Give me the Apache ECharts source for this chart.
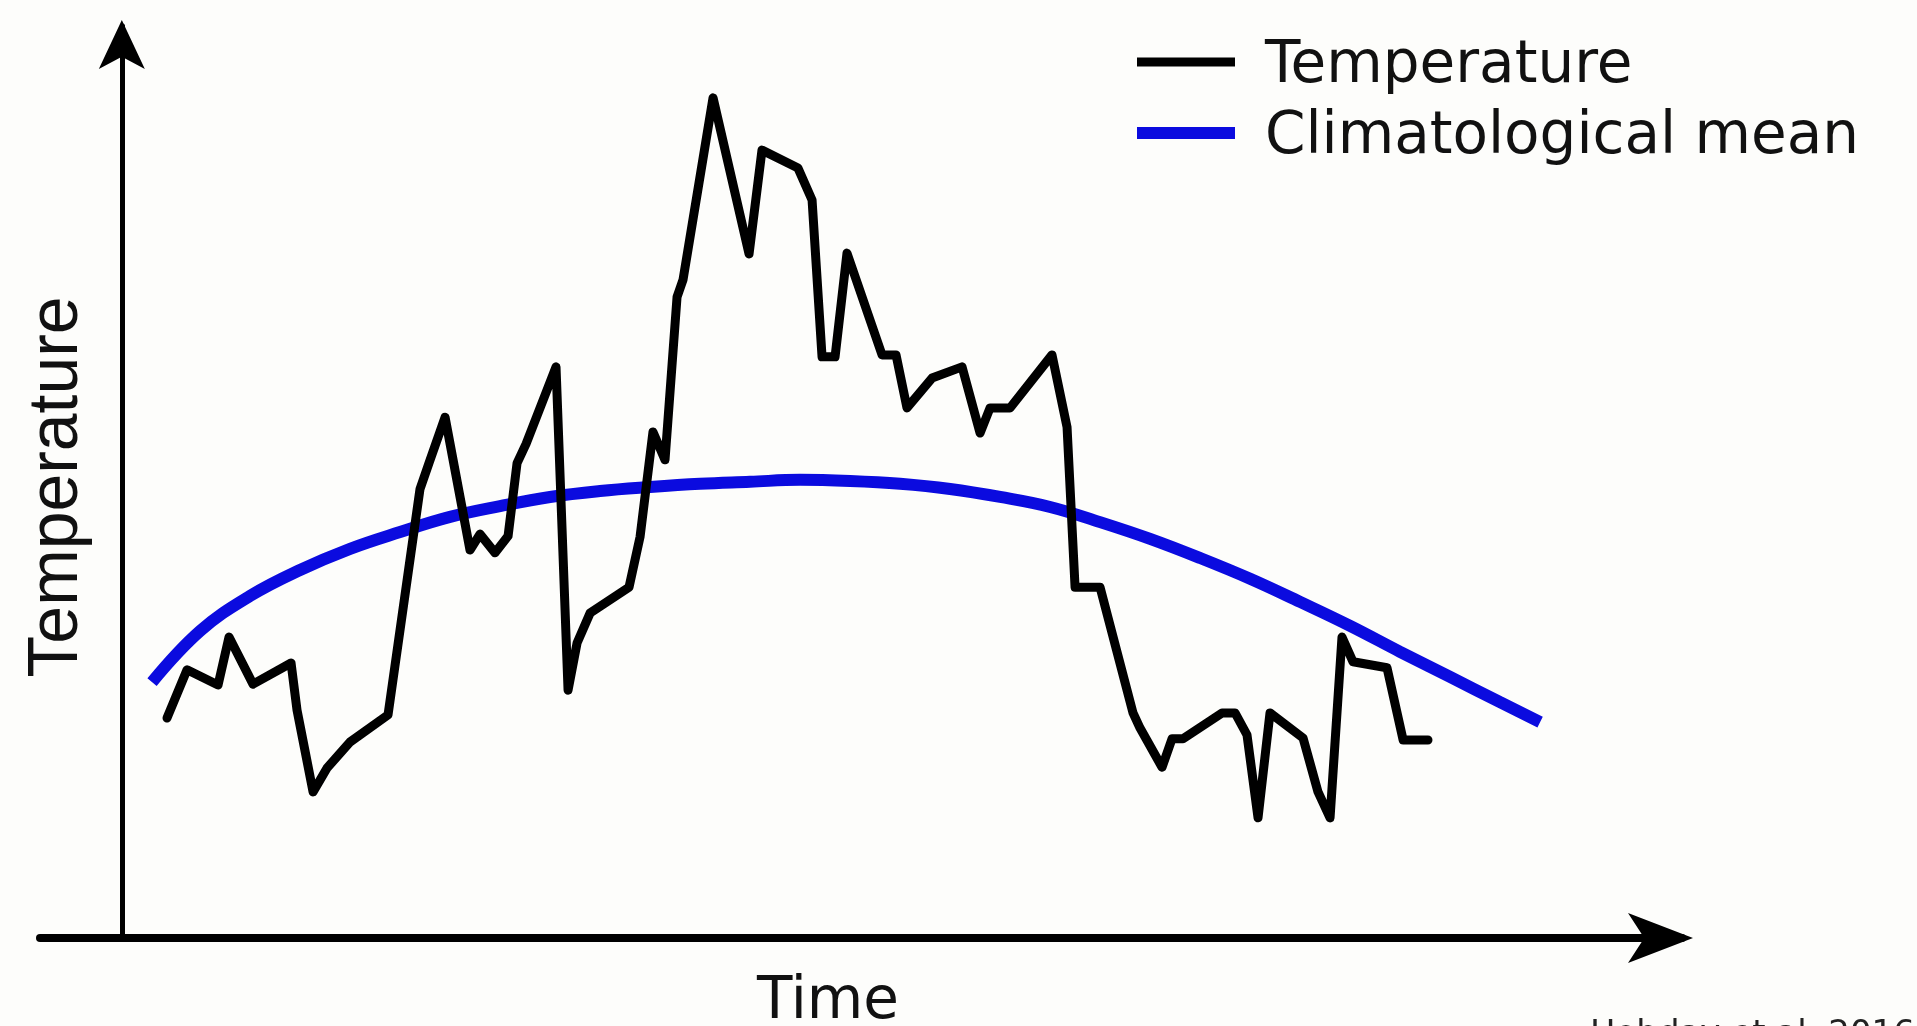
<!DOCTYPE html>
<html>
<head>
<meta charset="utf-8">
<script src="https://cdn.jsdelivr.net/npm/echarts@6/dist/echarts.min.js"></script>
<style>
html,body{margin:0;padding:0;background:#fdfdfb;}
#chart{width:1917px;height:1026px;}
</style>
</head>
<body>
<div id="chart"></div>
<script>
// Time (days) and temperature readings of the observed series
const tempTime = [5.52,7.97,11.76,13.10,16.03,20.68,21.41,23.37,25.08,27.89,32.53,36.44,37.54,39.50,42.55,43.77,45.61,47.20,48.30,49.40,53.06,54.53,55.63,57.22,61.98,63.33,64.91,66.38,67.85,68.58,72.25,76.65,78.23,82.63,84.35,85.57,87.16,88.62,92.90,94.61,95.95,99.01,102.68,104.88,106.10,108.54,113.67,115.51,116.49,119.54,123.57,124.43,127.12,128.34,129.68,134.45,136.04,137.50,138.85,140.31,144.35,146.18,147.65,149.11,150.46,154.61,156.58,159.62];
const tempValues = [5.51,6.72,6.34,7.54,6.36,6.89,5.71,3.66,4.26,4.91,5.59,11.25,11.90,13.05,9.72,10.12,9.65,10.07,11.90,12.38,14.31,6.21,7.39,8.14,8.79,10.05,12.68,11.98,16.06,16.49,21.05,17.14,19.74,19.29,18.49,14.56,14.56,17.16,14.61,14.61,13.28,14.03,14.31,12.65,13.28,13.28,14.61,12.80,8.79,8.79,5.64,5.26,4.28,4.99,4.99,5.64,5.64,5.09,3.01,5.64,5.01,3.66,3.01,7.54,6.92,6.77,4.96,4.96];

// Climatological mean readings
const climTime = [3.69,9.56,15.67,21.78,27.89,34.00,40.11,46.22,52.33,58.44,64.55,70.66,76.77,82.88,89.00,95.11,101.22,107.33,113.44,119.55,125.66,131.77,137.88,143.99,150.10,156.21,162.32,168.43,173.32];
const climValues = [6.41,7.69,8.57,9.22,9.75,10.17,10.55,10.82,11.05,11.20,11.30,11.38,11.43,11.48,11.45,11.38,11.25,11.05,10.80,10.42,10.00,9.52,9.00,8.42,7.82,7.17,6.54,5.91,5.41];

const seriesNames = ['Temperature', 'Climatological mean'];
const axisNames = ['Time', 'Temperature'];
const credit = 'Hobday et al. 2016';

const zip = (a, b) => a.map((v, i) => [v, b[i]]);

const legendText = {
  fontFamily: 'DejaVu Sans', fontSize: 58, color: '#111',
  rich: {t: {fontFamily: 'DejaVu Sans', fontSize: 58, color: '#111', padding: [10, 0, 0, 25]}}
};

const chart = echarts.init(document.getElementById('chart'));
chart.setOption({
  backgroundColor: '#fdfdfb',
  animation: false,
  grid: {left: 40, right: 235, top: 26, bottom: 88, containLabel: false},
  xAxis: {
    type: 'value', min: -10, max: 190.66,
    axisLabel: {show: false}, axisTick: {show: false}, splitLine: {show: false},
    axisLine: {show: true, symbol: ['none', 'arrow'], symbolSize: [37.5, 65], symbolOffset: [0, 11],
      lineStyle: {color: '#000', width: 8}}
  },
  yAxis: {
    type: 'value', min: 0, max: 22.85,
    axisLabel: {show: false}, axisTick: {show: false}, splitLine: {show: false},
    axisLine: {show: true, onZero: true, symbol: ['none', 'arrow'], symbolSize: [34.5, 49], symbolOffset: [0, 6],
      lineStyle: {color: '#000', width: 5}}
  },
  legend: [
    {data: [seriesNames[0]], left: 1137, top: 38, padding: 0, icon: 'rect',
      itemWidth: 98, itemHeight: 9, formatter: '{t|{name}}', textStyle: legendText},
    {data: [seriesNames[1]], left: 1137, top: 109, padding: 0, icon: 'rect',
      itemWidth: 98, itemHeight: 12, formatter: '{t|{name}}', textStyle: legendText}
  ],
  series: [
    {
      name: seriesNames[1], type: 'line', data: zip(climTime, climValues),
      showSymbol: false, smooth: 0.4, z: 2,
      itemStyle: {color: '#0b0bdf'},
      lineStyle: {color: '#0b0bdf', width: 12, cap: 'butt'}
    },
    {
      name: seriesNames[0], type: 'line', data: zip(tempTime, tempValues),
      showSymbol: false, z: 3,
      itemStyle: {color: '#000'},
      lineStyle: {color: '#000', width: 9, cap: 'round', join: 'round'}
    }
  ],
  graphic: [
    {type: 'text', x: 828, y: 974, style: {text: axisNames[0], fontFamily: 'DejaVu Sans', fontSize: 58,
      fill: '#111', align: 'center', verticalAlign: 'top'}},
    {type: 'text', x: 58, y: 487, rotation: Math.PI / 2, scaleX: 0.97,
      style: {text: axisNames[1], fontFamily: 'Liberation Sans', fontSize: 70,
      fill: '#111', align: 'center', verticalAlign: 'middle'}},
    {type: 'text', x: 1590, y: 1018, style: {text: credit, fontFamily: 'DejaVu Sans', fontSize: 34,
      fill: '#222', align: 'left', verticalAlign: 'top'}}
  ]
});
</script>
</body>
</html>
